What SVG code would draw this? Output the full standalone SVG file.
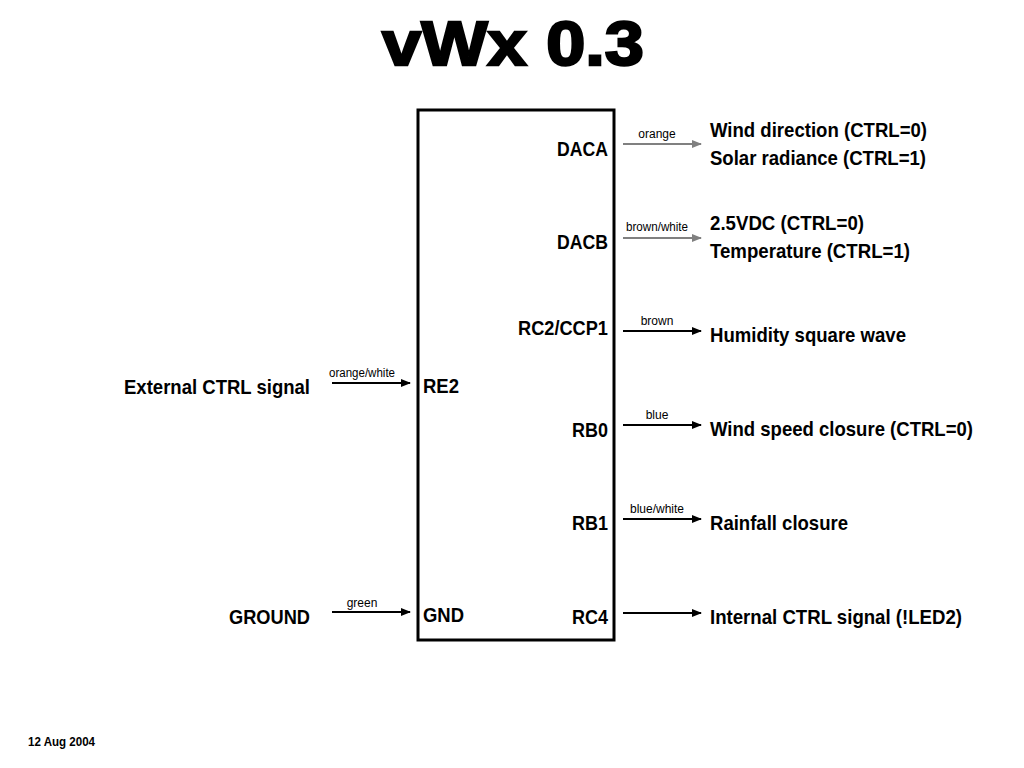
<svg xmlns="http://www.w3.org/2000/svg" width="1024" height="768" viewBox="0 0 1024 768">
<style>
text{font-family:"Liberation Sans",Arial,sans-serif;fill:#000}
.t{font-size:21px;font-weight:bold}
.s{font-size:12px}
.title{font-size:63px;font-weight:bold;stroke:#000;stroke-width:2.4}
.date{font-size:12px;font-weight:bold}
.blk{stroke:#000;stroke-width:2;fill:none}
.gry{stroke:#808080;stroke-width:2;fill:none}
</style>
<defs>
<marker id="ab" markerWidth="10" markerHeight="8" refX="9" refY="4" orient="auto" markerUnits="userSpaceOnUse"><path d="M0,0 L10,4 L0,8 Z" fill="#000"/></marker>
<marker id="ag" markerWidth="10" markerHeight="8" refX="9" refY="4" orient="auto" markerUnits="userSpaceOnUse"><path d="M0,0 L10,4 L0,8 Z" fill="#808080"/></marker>
</defs>
<rect width="1024" height="768" fill="#fff"/>
<text class="title" x="382" y="65" textLength="262" lengthAdjust="spacingAndGlyphs">vWx 0.3</text>
<g id="chip">
<rect x="418" y="110" width="196" height="530" fill="none" stroke="#000" stroke-width="3"/>
<text class="t" x="608" y="156" text-anchor="end" textLength="51" lengthAdjust="spacingAndGlyphs">DACA</text>
<text class="t" x="608" y="249" text-anchor="end" textLength="51" lengthAdjust="spacingAndGlyphs">DACB</text>
<text class="t" x="608" y="335" text-anchor="end" textLength="90" lengthAdjust="spacingAndGlyphs">RC2/CCP1</text>
<text class="t" x="608" y="437" text-anchor="end" textLength="36" lengthAdjust="spacingAndGlyphs">RB0</text>
<text class="t" x="608" y="530" text-anchor="end" textLength="36" lengthAdjust="spacingAndGlyphs">RB1</text>
<text class="t" x="608" y="624" text-anchor="end" textLength="36" lengthAdjust="spacingAndGlyphs">RC4</text>
<text class="t" x="423" y="393" textLength="36" lengthAdjust="spacingAndGlyphs">RE2</text>
<text class="t" x="423" y="622" textLength="41" lengthAdjust="spacingAndGlyphs">GND</text>
</g>
<g id="connectors">
<line class="gry" x1="623" y1="144" x2="701" y2="144" marker-end="url(#ag)"/>
<line class="gry" x1="623" y1="238" x2="701" y2="238" marker-end="url(#ag)"/>
<line class="blk" x1="623" y1="331" x2="701" y2="331" marker-end="url(#ab)"/>
<line class="blk" x1="623" y1="425" x2="701" y2="425" marker-end="url(#ab)"/>
<line class="blk" x1="623" y1="519" x2="701" y2="519" marker-end="url(#ab)"/>
<line class="blk" x1="623" y1="613" x2="701" y2="613" marker-end="url(#ab)"/>
<line class="blk" x1="332" y1="383" x2="410" y2="383" marker-end="url(#ab)"/>
<line class="blk" x1="332" y1="612" x2="410" y2="612" marker-end="url(#ab)"/>
<text class="s" x="657" y="138" text-anchor="middle">orange</text>
<text class="s" x="657" y="231" text-anchor="middle" textLength="62" lengthAdjust="spacingAndGlyphs">brown/white</text>
<text class="s" x="657" y="325" text-anchor="middle">brown</text>
<text class="s" x="657" y="419" text-anchor="middle">blue</text>
<text class="s" x="657" y="513" text-anchor="middle">blue/white</text>
<text class="s" x="362" y="377" text-anchor="middle" textLength="66" lengthAdjust="spacingAndGlyphs">orange/white</text>
<text class="s" x="362" y="607" text-anchor="middle">green</text>
</g>
<g id="out-daca">
<text class="t" x="710" y="137" textLength="217" lengthAdjust="spacingAndGlyphs">Wind direction (CTRL=0)</text>
<text class="t" x="710" y="165" textLength="216" lengthAdjust="spacingAndGlyphs">Solar radiance (CTRL=1)</text>
</g>
<g id="out-dacb">
<text class="t" x="710" y="230" textLength="154" lengthAdjust="spacingAndGlyphs">2.5VDC (CTRL=0)</text>
<text class="t" x="710" y="258" textLength="200" lengthAdjust="spacingAndGlyphs">Temperature (CTRL=1)</text>
</g>
<g id="out-rc2"><text class="t" x="710" y="342" textLength="196" lengthAdjust="spacingAndGlyphs">Humidity square wave</text></g>
<g id="out-rb0"><text class="t" x="710" y="436" textLength="263" lengthAdjust="spacingAndGlyphs">Wind speed closure (CTRL=0)</text></g>
<g id="out-rb1"><text class="t" x="710" y="530" textLength="138" lengthAdjust="spacingAndGlyphs">Rainfall closure</text></g>
<g id="out-rc4"><text class="t" x="710" y="624" textLength="252" lengthAdjust="spacingAndGlyphs">Internal CTRL signal (!LED2)</text></g>
<g id="in-re2"><text class="t" x="310" y="394" text-anchor="end" textLength="186" lengthAdjust="spacingAndGlyphs">External CTRL signal</text></g>
<g id="in-gnd"><text class="t" x="310" y="624" text-anchor="end" textLength="81" lengthAdjust="spacingAndGlyphs">GROUND</text></g>
<text class="date" x="28" y="746" textLength="67" lengthAdjust="spacingAndGlyphs">12 Aug 2004</text>
</svg>
